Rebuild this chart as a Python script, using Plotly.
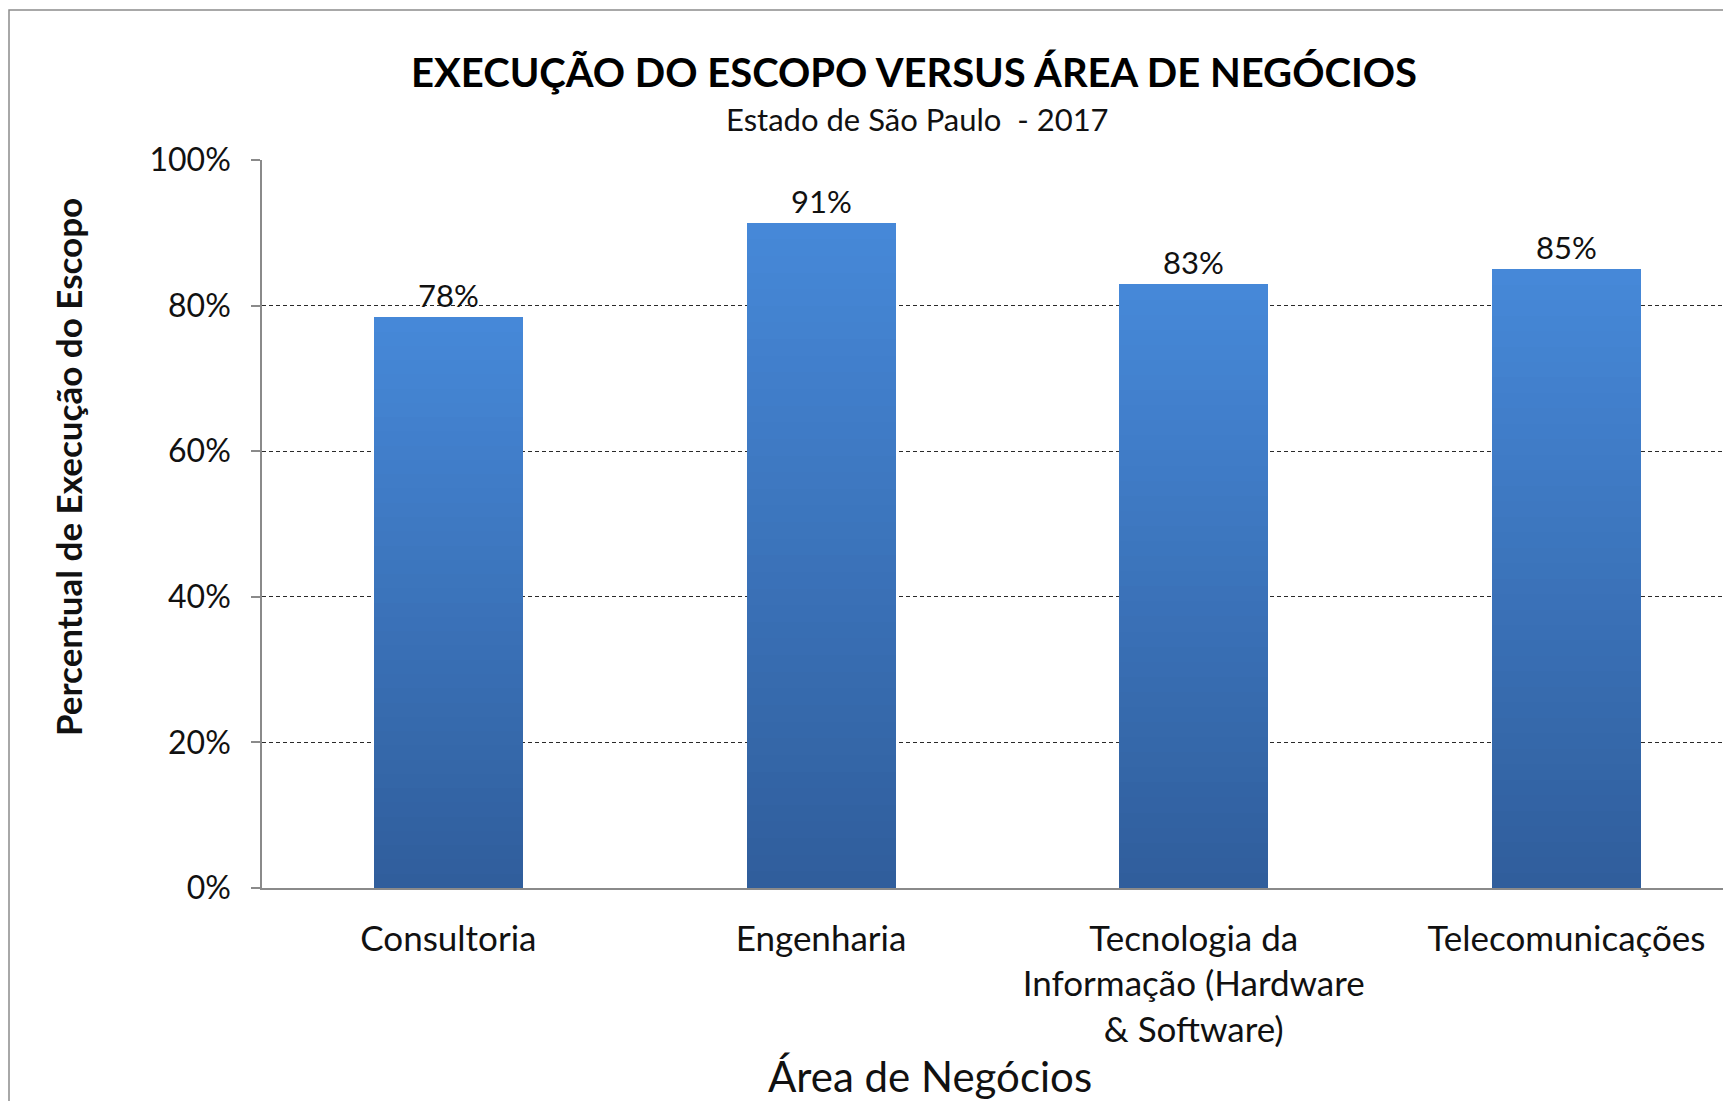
import plotly.graph_objects as go

categories = ["Consultoria", "Engenharia",
              "Tecnologia da<br>Informação (Hardware<br>& Software)",
              "Telecomunicações"]
values = [0.784, 0.914, 0.829, 0.850]
labels = ["78%", "91%", "83%", "85%"]
y_ticks = [0, 0.2, 0.4, 0.6, 0.8, 1.0]
y_tick_text = ["0%", "20%", "40%", "60%", "80%", "100%"]

W, H = 1731, 1101
OFF = 8  # page body margin
L, R, T, B = 254, 0, 152, 221
PW, PH = W - L - R, H - T - B

def px(sx):
    return (sx - OFF - L) / PW

def py(sy):
    return (H - B - (sy - OFF)) / PH

FONT = "Lato"
N = 40
c_bot = (0x30, 0x5e, 0x9c)
c_top = (0x46, 0x88, 0xd8)

fig = go.Figure()
for k in range(N):
    f = k / (N - 1)
    col = "rgb(%d,%d,%d)" % tuple(round(a + (b - a) * f) for a, b in zip(c_bot, c_top))
    last = k == N - 1
    fig.add_trace(go.Bar(
        x=categories, y=[v / N for v in values],
        marker=dict(color=col, line=dict(width=0)),
        width=0.4,
        text=labels if last else None,
        textposition="outside" if last else "none",
        textfont=dict(family=FONT, size=31, color="#111"),
        cliponaxis=False,
        hoverinfo="skip", showlegend=False,
    ))

fig.update_layout(
    width=W, height=H,
    margin=dict(l=L, r=R, t=T, b=B, pad=0),
    barmode="stack", bargap=0,
    plot_bgcolor="white", paper_bgcolor="white",
    font=dict(family=FONT, color="#111"),
    xaxis=dict(
        type="category", range=[-0.5, -0.5 + PW / 372.7],
        showline=True, linecolor="#8a8a8a", linewidth=1.5,
        ticks="", showgrid=False,
        tickfont=dict(family=FONT, size=35, color="#111"),
        ticklabelstandoff=19,
    ),
    yaxis=dict(
        range=[0, 1.0], tickvals=y_ticks, ticktext=y_tick_text,
        showline=True, linecolor="#8a8a8a", linewidth=1.5,
        ticks="outside", ticklen=9, tickcolor="#8a8a8a", tickwidth=1.5,
        showgrid=True, gridcolor="#2a2a2a", gridwidth=1, griddash="4px,3px",
        zeroline=False,
        tickfont=dict(family=FONT, size=32, color="#111"),
        ticklabelstandoff=14,
    ),
    annotations=[
        dict(text="<b>EXECUÇÃO DO ESCOPO VERSUS ÁREA DE NEGÓCIOS</b>",
             x=px(914), y=py(72), xref="paper", yref="paper",
             xanchor="center", yanchor="middle", showarrow=False,
             font=dict(family=FONT, size=40, color="#000")),
        dict(text="Estado de São Paulo  - 2017",
             x=px(917), y=py(119), xref="paper", yref="paper",
             xanchor="center", yanchor="middle", showarrow=False,
             font=dict(family=FONT, size=31, color="#111")),
        dict(text="<b>Percentual de Execução do Escopo</b>",
             x=px(68), y=py(467), xref="paper", yref="paper",
             xanchor="center", yanchor="middle", showarrow=False, textangle=-90,
             font=dict(family=FONT, size=35, color="#111")),
        dict(text="Área de Negócios",
             x=px(930), y=py(1076), xref="paper", yref="paper",
             xanchor="center", yanchor="middle", showarrow=False,
             font=dict(family=FONT, size=42, color="#111")),
    ],
    shapes=[
        dict(type="rect", xref="paper", yref="paper",
             x0=px(9), x1=px(W + 30), y0=py(H + 30), y1=py(10),
             line=dict(color="#8c8c8c", width=1.5), fillcolor="rgba(0,0,0,0)",
             layer="below"),
    ],
)

fig.write_html("out.html")
